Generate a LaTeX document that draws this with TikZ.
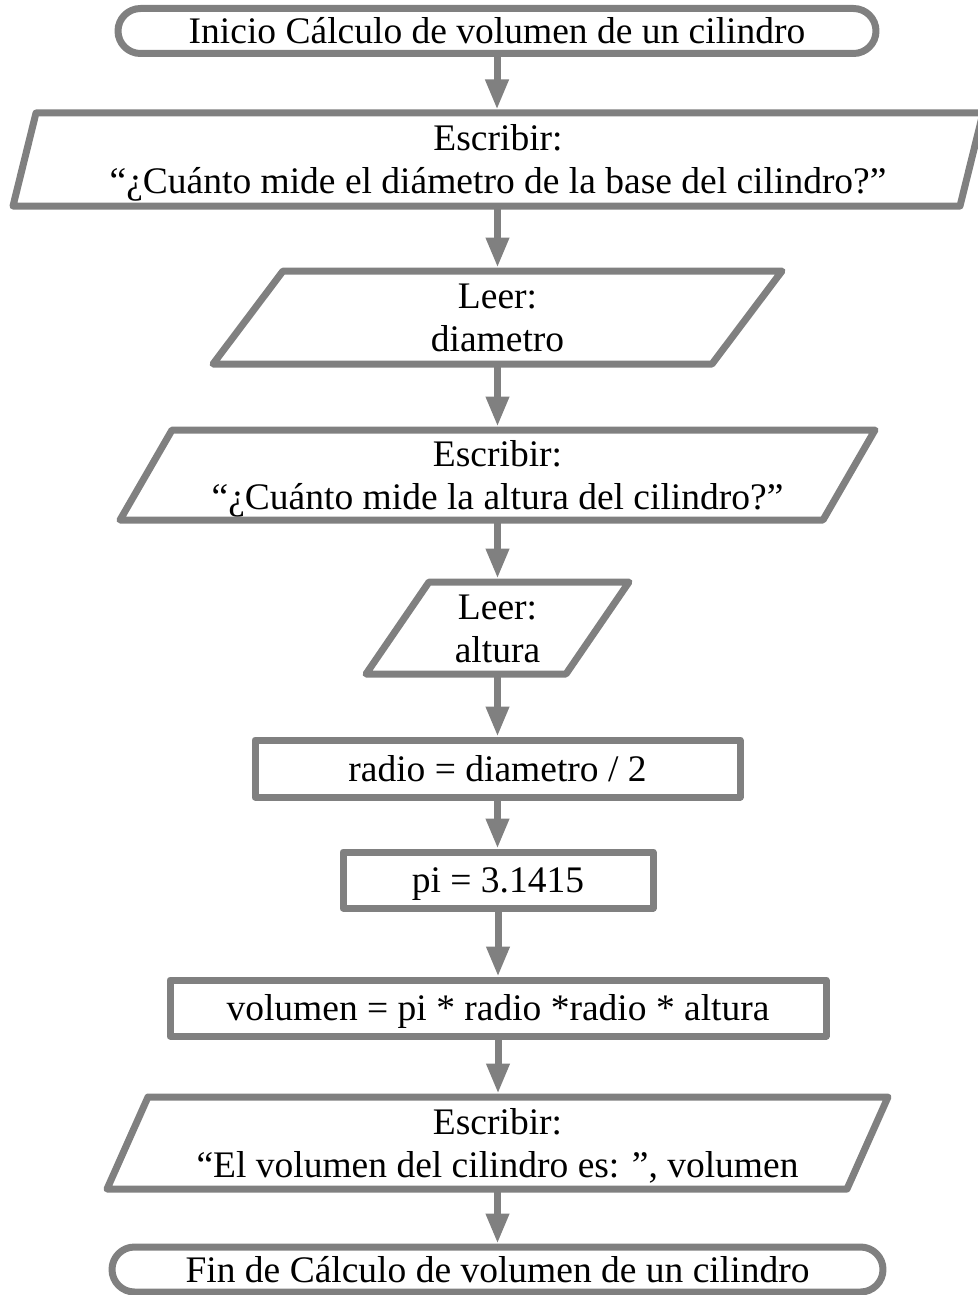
\documentclass[tikz,border=0pt]{standalone}
\usepackage{fontspec}
\setmainfont{Liberation Serif}
\usetikzlibrary{arrows.meta}
\definecolor{fgray}{HTML}{808080}
\newcommand\lst{\rule[-0.216em]{0pt}{1.107em}}
\newcommand\parashape[2]{\draw[ln] ([xshift=#2]#1.north west) -- (#1.north east) -- ([xshift=-#2]#1.south east) -- (#1.south west) -- cycle;}
\begin{document}
\begin{tikzpicture}[x=1pt,y=-1pt,
  every node/.style={font=\fontsize{37.5}{43}\selectfont, inner sep=0pt, outer sep=0pt, align=center},
  ln/.style={draw=fgray, line width=7pt, line join=round},
  term/.style={ln, rounded corners=22.5pt, minimum height=45pt},
  proc/.style={ln, minimum height=56pt},
  arr/.style={draw=fgray, line width=7pt, -{Triangle[width=22pt,length=30pt]}, shorten >=3.5pt}]
\useasboundingbox (0,0) rectangle (977,1295);
\node[term, minimum width=758pt] (start) at (497,31) {\lst Inicio Cálculo de volumen de un cilindro};
\node[minimum width=970pt, minimum height=93pt] (w1) at (498,159.5) {\lst Escribir:\\\lst “¿Cuánto mide el diámetro de la base del cilindro?”};
\node[minimum width=569pt, minimum height=93pt] (r1) at (497.5,317.5) {\lst Leer:\\\lst diametro};
\node[minimum width=755pt, minimum height=90pt] (w2) at (497.5,475) {\lst Escribir:\\\lst “¿Cuánto mide la altura del cilindro?”};
\node[minimum width=263pt, minimum height=92pt] (r2) at (497.5,628) {\lst Leer:\\\lst altura};
\node[proc, minimum width=485pt, minimum height=57pt] (c1) at (497.5,768.5) {\lst radio = diametro / 2};
\node[proc, minimum width=310pt] (c2) at (498,880) {\lst pi = 3.1415};
\node[proc, minimum width=656pt] (c3) at (498,1008) {\lst volumen = pi * radio *radio * altura};
\node[minimum width=781pt, minimum height=92pt] (w3) at (497.5,1143) {\lst Escribir:\\\lst “El volumen del cilindro es: ”, volumen};
\node[term, minimum width=771pt] (end) at (497.5,1269.5) {\lst Fin de Cálculo de volumen de un cilindro};
\parashape{w1}{23pt}
\parashape{r1}{70pt}
\parashape{w2}{52pt}
\parashape{r2}{63pt}
\parashape{w3}{41pt}
\draw[arr] (start.south) -- (start.south |- w1.north);
\draw[arr] (w1.south -| r1.north) -- (r1.north);
\draw[arr] (r1.south) -- (w2.north);
\draw[arr] (w2.south) -- (r2.north);
\draw[arr] (r2.south) -- (c1.north);
\draw[arr] (c1.south) -- (c1.south |- c2.north);
\draw[arr] (c2.south) -- (c3.north);
\draw[arr] (c3.south) -- (c3.south |- w3.north);
\draw[arr] (w3.south) -- (w3.south |- end.north);
\end{tikzpicture}
\end{document}
